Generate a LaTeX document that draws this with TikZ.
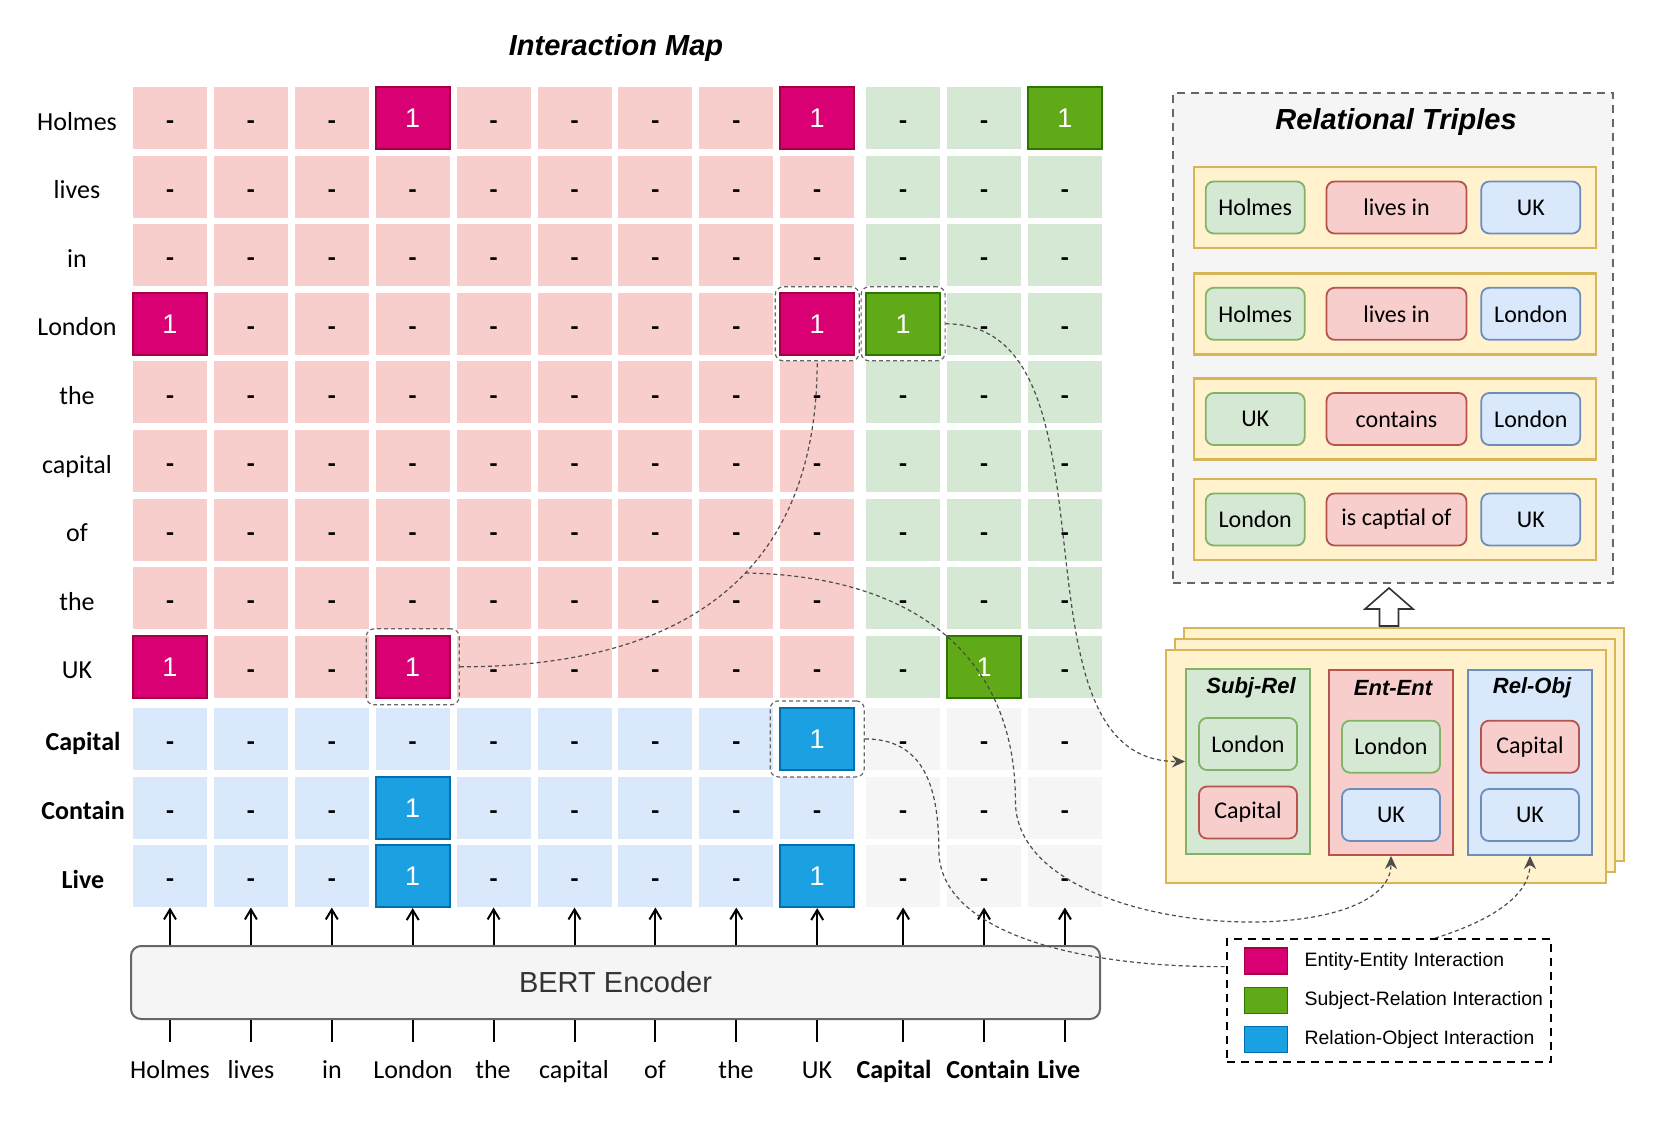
\documentclass[tikz,border=0pt]{standalone}
\usepackage{fontspec}
\setmainfont{Liberation Sans}
\newfontfamily\handfont{Carlito}
\usepackage{tikz}
\usetikzlibrary{arrows.meta, positioning, calc}
\definecolor{eebg}{HTML}{F8CECC}
\definecolor{srbg}{HTML}{D5E8D4}
\definecolor{robg}{HTML}{DAE8FC}
\definecolor{nobg}{HTML}{F5F5F5}
\definecolor{ee}{HTML}{D80073}
\definecolor{eeline}{HTML}{A50040}
\definecolor{sr}{HTML}{60A917}
\definecolor{srline}{HTML}{2D7600}
\definecolor{ro}{HTML}{1BA1E2}
\definecolor{roline}{HTML}{006EAF}
\definecolor{greenline}{HTML}{82B366}
\definecolor{redline}{HTML}{B85450}
\definecolor{blueline}{HTML}{6C8EBF}
\definecolor{paper}{HTML}{FFF2CC}
\definecolor{paperline}{HTML}{D6B656}
\definecolor{frameline}{HTML}{666666}
\definecolor{linkgray}{HTML}{4D4D4D}

\newcommand{\colx}[1]{170+(#1-1)*80.9+(#1>9)*5}
\newcommand{\rowy}[1]{118+(#1-1)*68.6+(#1>9)*3.5}

\begin{document}
\begin{tikzpicture}[
    x=0.5pt, y=-0.5pt,
    headline/.style={font=\bfseries\itshape\fontsize{14.5}{17}\selectfont},
    gridcell/.style={minimum width=37pt, minimum height=31pt, inner sep=0pt,
        font=\handfont\bfseries\fontsize{13}{13}\selectfont, text height=11.6pt, text depth=0pt,
        execute at begin node={\def\cellval{-}}},
    hitcell/.style={fill=#1, draw=#1line, line width=1pt, text=white,
        font=\fontsize{13.5}{14}\selectfont, text height=9.7pt,
        execute at begin node={\def\cellval{1}}},
    m-1-4/.style={hitcell=ee}, m-1-9/.style={hitcell=ee}, m-1-12/.style={hitcell=sr},
    m-4-1/.style={hitcell=ee}, m-4-9/.style={hitcell=ee}, m-4-10/.style={hitcell=sr},
    m-9-1/.style={hitcell=ee}, m-9-4/.style={hitcell=ee}, m-9-11/.style={hitcell=sr},
    m-10-9/.style={hitcell=ro}, m-11-4/.style={hitcell=ro},
    m-12-4/.style={hitcell=ro}, m-12-9/.style={hitcell=ro},
    rowlab/.style={font=\handfont\fontsize{13}{13}\selectfont, text height=12pt, text depth=0pt, inner sep=0pt},
    wordlab/.style={font=\handfont\fontsize{13}{13}\selectfont, text height=9pt, text depth=2.5pt, inner xsep=0pt, inner ysep=9pt, anchor=base},
    pairbox/.style={draw=frameline, dash pattern=on 2pt off 1.5pt, line width=0.6pt, rounded corners=4pt, minimum width=42pt, minimum height=37pt},
    dashlink/.style={draw=linkgray, dash pattern=on 2pt off 1.5pt, line width=0.6pt},
    linktip/.style={-{Stealth[length=6.5pt, width=6pt, fill=linkgray]}},
    encoder/.style={rectangle, rounded corners=5pt, draw=frameline, fill=nobg, line width=1pt, minimum width=484.5pt, minimum height=36.5pt, text=black!80, font=\fontsize{14.5}{17}\selectfont},
    feedarrow/.style={-{Straight Barb[length=5pt, width=6pt]}, line width=1pt},
    wire/.style={line width=1pt},
    tripleframe/.style={draw=frameline, fill=nobg, dash pattern=on 4pt off 3pt, line width=1pt, minimum width=220pt, minimum height=245pt},
    triplerow/.style={draw=paperline, fill=paper, line width=1.2pt, minimum width=201pt, minimum height=40.5pt},
    chip/.style={rounded corners=4pt, line width=0.9pt, minimum width=49.5pt, minimum height=26pt, inner sep=1pt, font=\handfont\fontsize{12}{12}\selectfont},
    subjchip/.style={chip, fill=srbg, draw=greenline},
    relchip/.style={chip, fill=eebg, draw=redline},
    objchip/.style={chip, fill=robg, draw=blueline},
    sheet/.style={draw=paperline, fill=paper, line width=1pt, minimum width=220pt, minimum height=116.5pt},
    typepanel/.style={line width=1pt, minimum width=62pt, minimum height=92.5pt},
    ptitle/.style={font=\bfseries\itshape\fontsize{11}{13}\selectfont},
    legendbox/.style={draw=black, fill=white, dash pattern=on 4pt off 3pt, line width=1pt, minimum width=162pt, minimum height=61.5pt},
    swatch/.style={fill=#1, draw=#1line, line width=0.75pt, minimum width=21.5pt, minimum height=13pt, inner sep=0pt},
    legtext/.style={font=\fontsize{9.7}{11}\selectfont, inner sep=0pt}
]
    \useasboundingbox (0,0) rectangle (1661,1120);

    % Interaction map
    \node[headline] (maptitle) at (616,48) {Interaction Map};
    \foreach \r in {1,...,12}
      \foreach \c in {1,...,12} {
        \ifnum\r<10 \ifnum\c<10 \def\bg{eebg}\else\def\bg{srbg}\fi
        \else \ifnum\c<10 \def\bg{robg}\else\def\bg{nobg}\fi\fi
        \node[gridcell, fill=\bg, m-\r-\c/.try] (m-\r-\c) at ({\colx{\c}}, {\rowy{\r}}) {\cellval};
      }

    % Row labels
    \foreach \w [count=\r] in {Holmes, lives, in, London, the, capital, of, the, UK}
        \node[rowlab] (row\r) at (77, {\rowy{\r}}) {\w};
    \foreach \w [count=\r from 10] in {Capital, Contain, Live}
        \node[rowlab, font=\handfont\bfseries\fontsize{13}{13}\selectfont] (row\r) at (83, {\rowy{\r}}) {\w};

    % Highlighted pairs
    \node[pairbox] (hlLondonUK) at (m-4-9) {};
    \node[pairbox] (hlLondonCap) at (m-4-10) {};
    \node[pairbox, minimum width=46.5pt, minimum height=38pt] (hlUKLondon) at (m-9-4) {};
    \node[pairbox, minimum width=47pt, minimum height=38pt] (hlCapUK) at (m-10-9) {};

    % BERT encoder and inputs
    \node[encoder] (bert) at (615.5,982.5) {BERT Encoder};
    \foreach \w/\wx [count=\c] in {Holmes/170, lives/251, in/332, London/413, the/493, capital/574, of/655, the/736, UK/817,
        \textbf{Capital}/894, \textbf{Contain}/988, \textbf{Live}/1059} {
        \node[wordlab] (w\c) at (\wx, 1078) {\w};
        \draw[feedarrow] (bert.north -| m-12-\c) -- (m-12-\c.south);
        \draw[wire] (bert.south -| m-12-\c) -- (m-12-\c |- w\c.north);
    }

    % Relational triples
    \node[tripleframe] (triples) at (1393,338) {};
    \node[headline] (rtitle) at (1396,122) {Relational Triples};
    \foreach \ys/\subj/\rel/\obj [count=\i] in {207.5/Holmes/lives in/UK, 313.8/Holmes/lives in/London, 419/UK/contains/London, 519.5/London/is captial of/UK} {
        \node[triplerow] (t\i) at (1395,\ys) {};
        \node[subjchip, right=6pt of t\i.west] (s\i) {\subj};
        \node[relchip, minimum width=70pt, right=10pt of s\i] (p\i) {\rel};
        \node[objchip, right=6.5pt of p\i] (o\i) {\obj};
    }

    % Decoded pair tables
    \node[sheet] (stack3) at (1404,744.5) {};
    \node[sheet] (stack2) at (1395,755.5) {};
    \node[sheet] (stack) at (1386,766.5) {};
    \node[typepanel, fill=srbg, draw=greenline] (subjrel) at (1248,761.5) {};
    \node[typepanel, fill=eebg, draw=redline] (entent) at (1391,762.5) {};
    \node[typepanel, fill=robg, draw=blueline] (relobj) at (1530,762.5) {};
    \node[ptitle] (srtitle) at (1251,688) {Subj-Rel};
    \node[ptitle] (eetitle) at (1393,688) {Ent-Ent};
    \node[ptitle] (rotitle) at (1532,688) {Rel-Obj};
    \node[subjchip, minimum width=49pt] (srA) at (1248,744) {London};
    \node[relchip, minimum width=49pt] (srB) at (1248,812.5) {Capital};
    \node[subjchip, minimum width=49pt] (eeA) at (1391,746.7) {London};
    \node[objchip, minimum width=49pt] (eeB) at (1391,815) {UK};
    \node[relchip, minimum width=49pt] (roA) at (1530,746.7) {Capital};
    \node[objchip, minimum width=49pt] (roB) at (1530,815) {UK};

    % Aggregation arrow
    \draw[line width=0.8pt, draw=black!80, fill=white] ($(triples.south)+(-4,4)$) -- ++(24,21) -- ++(-14.5,0) -- ++(0,17) -- ++(-19,0) -- ++(0,-17) -- ++(-14.5,0) -- cycle;

    % Links
    \draw[dashlink] (hlUKLondon.east) .. controls +(240,0) and +(0,200) .. (hlLondonUK.south)
        coordinate[pos=0.55] (eeMid);
    \draw[dashlink, linktip] (hlLondonCap.east) .. controls +(185,0) and +(-186,0) .. (subjrel.west);
    \draw[dashlink, linktip] (eeMid) .. controls +(175,3) and +(0,-140) .. ++(270,228)
        .. controls +(0,140) and +(0,100) .. (entent.south);
    \draw[dashlink, linktip] (hlCapUK.east) .. controls +(55,0) and +(0,-70) .. ++(74,111)
        .. controls +(0,170) and +(0,130) .. (relobj.south);

    % Legend
    \node[legendbox] (legend) at (1389,1000.5) {};
    \foreach \col/\txt [count=\i] in {ee/Entity-Entity Interaction, sr/Subject-Relation Interaction, ro/Relation-Object Interaction} {
        \node[swatch=\col] (sw\i) at (1266, {961+(\i-1)*39.3}) {};
        \node[legtext, right=8pt of sw\i] (lt\i) {\txt};
    }
\end{tikzpicture}
\end{document}
